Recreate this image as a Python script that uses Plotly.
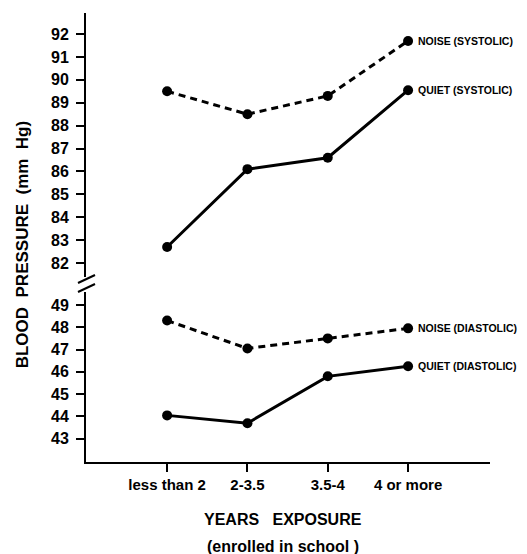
import plotly.graph_objects as go

categories = ["less than 2", "2-3.5", "3.5-4", "4 or more"]
noise_systolic = [89.5, 88.5, 89.3, 91.7]
quiet_systolic = [82.7, 86.1, 86.6, 89.55]
noise_diastolic = [48.3, 47.05, 47.5, 47.95]
quiet_diastolic = [44.05, 43.7, 45.8, 46.25]
upper_ticks = list(range(82, 93))
lower_ticks = list(range(43, 50))

xs = list(range(len(categories)))
FONT = "Liberation Sans, Arial, sans-serif"

fig = go.Figure()

def add_series(y, axis, dashed, label):
    fig.add_trace(go.Scatter(
        x=xs, y=y, yaxis=axis, mode="lines+markers",
        line=dict(color="black", width=3, dash="7px,5px" if dashed else "solid"),
        marker=dict(color="black", size=10),
        showlegend=False, hoverinfo="skip"))
    fig.add_annotation(x=xs[-1], y=y[-1], xref="x", yref=axis,
                       text=label, showarrow=False, xanchor="left", yanchor="middle",
                       xshift=8,
                       font=dict(family=FONT, size=10.5, color="black", weight="bold"))

add_series(noise_systolic, "y2", True, "NOISE (SYSTOLIC)")
add_series(quiet_systolic, "y2", False, "QUIET (SYSTOLIC)")
add_series(noise_diastolic, "y", True, "NOISE (DIASTOLIC)")
add_series(quiet_diastolic, "y", False, "QUIET (DIASTOLIC)")

tickfont = dict(family=FONT, size=16, color="black", weight="bold")
yax_common = dict(showgrid=False, zeroline=False, showline=True, linecolor="black",
                  linewidth=2, ticks="outside", ticklen=8, tickwidth=2,
                  tickcolor="black", tickfont=tickfont, ticklabelstandoff=4,
                  automargin=False)

fig.update_layout(
    width=519, height=546,
    margin=dict(l=78, r=37, t=5, b=92),
    paper_bgcolor="white", plot_bgcolor="white",
    xaxis=dict(range=[-1.01, 4.02], tickvals=xs, ticktext=categories,
               showgrid=False, zeroline=False, showline=True, linecolor="black",
               linewidth=2, ticks="outside", ticklen=8, tickwidth=2, tickcolor="black",
               tickfont=dict(family=FONT, size=15, color="black", weight="bold"),
               anchor="y", automargin=False),
    yaxis=dict(domain=[0, 0.3786], range=[41.96, 49.58], tickvals=lower_ticks,
               anchor="x", **yax_common),
    yaxis2=dict(domain=[0.412, 1], range=[81.39, 92.92], tickvals=upper_ticks,
                anchor="x", **yax_common),
)

# axis break marks
for y0, y1 in [(0.3987, 0.4165), (0.3786, 0.3964)]:
    fig.add_shape(type="line", xref="paper", yref="paper", x0=-0.0198, x1=0.0223,
                  y0=y0, y1=y1, line=dict(color="black", width=2))

fig.add_annotation(text="BLOOD&nbsp;&nbsp;PRESSURE&nbsp;&nbsp;(mm&nbsp;&nbsp;Hg)",
                   xref="paper", yref="paper", xanchor="center", yanchor="middle",
                   x=-0.158, y=0.483, textangle=-90, showarrow=False,
                   font=dict(family=FONT, size=17, color="black", weight="bold"))
fig.add_annotation(text="YEARS&nbsp;&nbsp;&nbsp;EXPOSURE", xref="paper", yref="paper",
                   xanchor="center", yanchor="middle",
                   x=0.488, y=-0.129, showarrow=False,
                   font=dict(family=FONT, size=16, color="black", weight="bold"))
fig.add_annotation(text="(enrolled in school )", xref="paper", yref="paper",
                   xanchor="center", yanchor="middle",
                   x=0.488, y=-0.189, showarrow=False,
                   font=dict(family=FONT, size=16, color="black", weight="bold"))

fig.write_html("out.html")
